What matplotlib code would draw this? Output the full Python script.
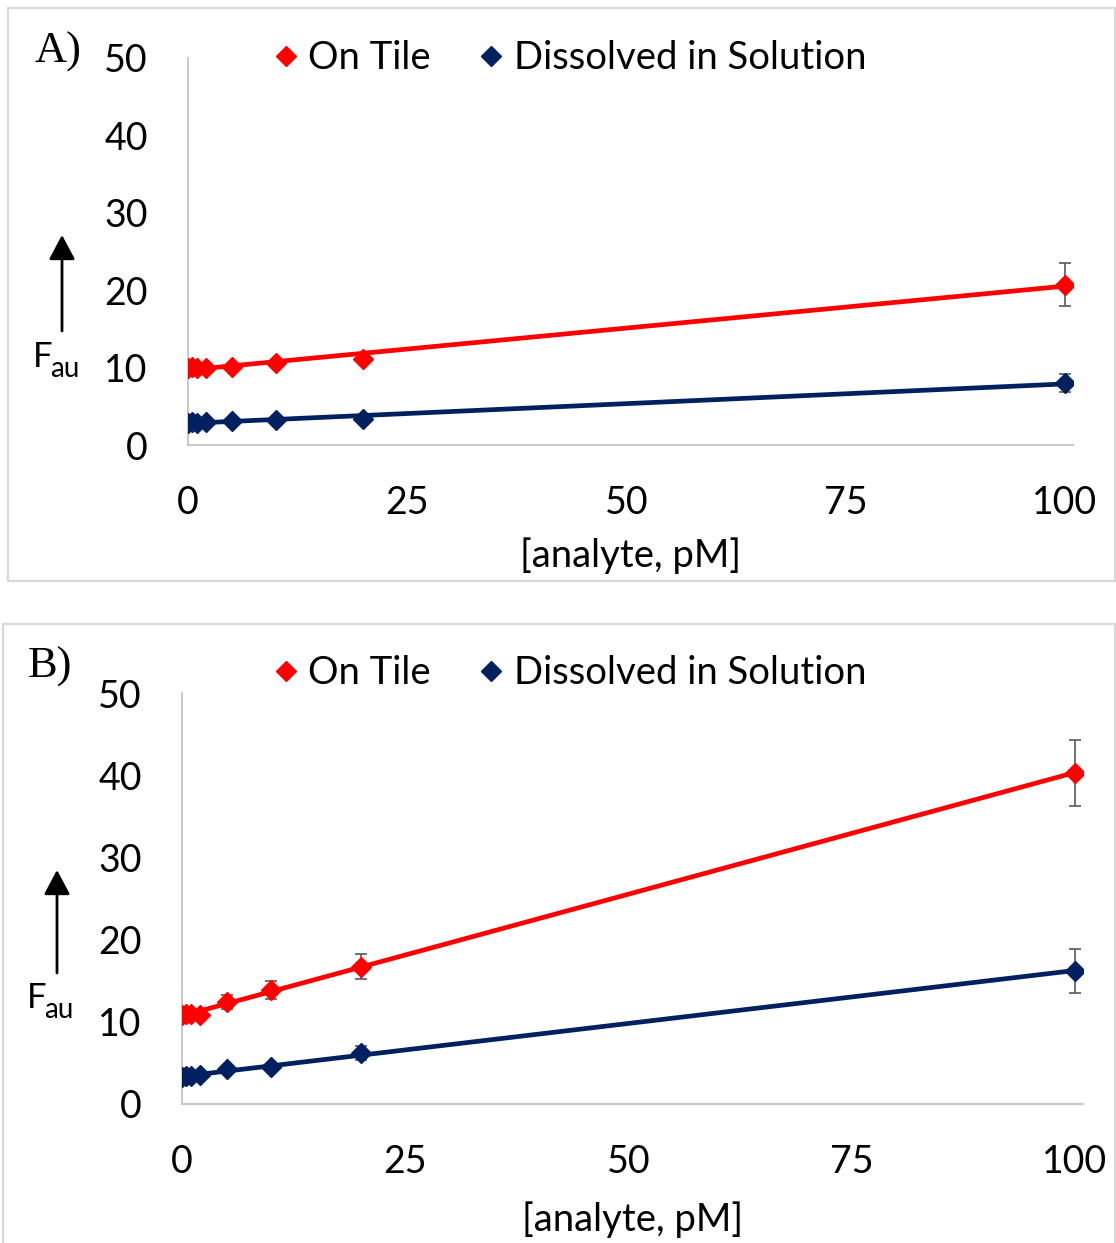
import numpy as np
import matplotlib
matplotlib.use("Agg")
import matplotlib.pyplot as plt
from matplotlib.lines import Line2D
from matplotlib.patches import Rectangle, FancyArrowPatch

# Analyte concentrations (pM)
conc = [0, 0.5, 1, 2, 5, 10, 20, 100]

# Panel A: fluorescence (a.u.)
a_tile = [10.0, 10.1, 10.0, 9.9, 10.1, 10.6, 11.1, 20.7]
a_tile_err = [0, 0, 0, 0, 0, 0, 0, 2.8]
a_sol = [2.9, 3.0, 2.9, 3.0, 3.1, 3.2, 3.3, 8.0]
a_sol_err = [0, 0, 0, 0, 0, 0, 0, 1.2]

# Panel B: fluorescence (a.u.)
b_tile = [10.8, 10.9, 11.0, 10.8, 12.4, 13.9, 16.7, 40.3]
b_tile_err = [0, 0, 0, 0, 0.9, 1.1, 1.5, 4.0]
b_sol = [3.3, 3.4, 3.4, 3.5, 4.2, 4.5, 6.2, 16.2]
b_sol_err = [0, 0, 0, 0, 0, 0, 0.9, 2.7]

series_labels = ["On Tile", "Dissolved in Solution"]
x_ticks = [0, 25, 50, 75, 100]
y_ticks = [0, 10, 20, 30, 40, 50]
x_title = "[analyte, pM]"

RED = "#FF0000"
NAVY = "#002060"
ERR = "#595959"
AXIS = "#C4C4C4"
FRAME = "#D9D9D9"
SANS = "Lato"
SERIF = "Liberation Serif"

W, H = 1116, 1243
fig = plt.figure(figsize=(W / 100, H / 100), dpi=100)


def fx(px):
    return px / W


def fy(py):
    return 1 - py / H


def panel(x0, x100, y0, y50, frame, tag, tag_xy, fau_xy, arrow, legend_y,
          xlabel_y, tile, tile_err, sol, sol_err):
    unit = (x100 - x0) / 100.0
    xmax = 100.9
    ax = fig.add_axes([fx(x0), fy(y0), (xmax * unit) / W, (y0 - y50) / H])
    ax.set_xlim(0, xmax)
    ax.set_ylim(0, 50)
    for name in ("top", "right"):
        ax.spines[name].set_visible(False)
    for name in ("left", "bottom"):
        ax.spines[name].set_color(AXIS)
        ax.spines[name].set_linewidth(1.3)
    ax.set_xticks(x_ticks)
    ax.set_yticks(y_ticks)
    ax.tick_params(axis="both", length=0, labelsize=27)
    ax.tick_params(axis="y", pad=29)
    ax.tick_params(axis="x", pad=29)
    for lab in ax.get_xticklabels() + ax.get_yticklabels():
        lab.set_fontfamily(SANS)

    xs = np.array(conc, dtype=float)
    for vals, errs, color in ((tile, tile_err, RED), (sol, sol_err, NAVY)):
        # linear trend line over the full concentration range
        k, b = np.polyfit(xs, np.array(vals), 1)
        xl = np.array([0, 100])
        ax.plot(xl, k * xl + b, color=color, lw=3.4, zorder=2,
                solid_capstyle="butt")
        ax.errorbar(xs, vals, yerr=errs, fmt="none", ecolor=ERR,
                    elinewidth=1.2, capsize=4, capthick=1.2, zorder=3)
        ax.plot(xs, vals, linestyle="none", marker="D", ms=9.8,
                color=color, mec=color, zorder=4)

    handles = [
        Line2D([], [], linestyle="none", marker="D", ms=10.5, color=RED),
        Line2D([], [], linestyle="none", marker="D", ms=10.5, color=NAVY),
    ]
    ax.legend(handles, series_labels, loc="center left",
              bbox_to_anchor=(fx(255), fy(legend_y)),
              bbox_transform=fig.transFigure, ncol=2, frameon=False,
              borderpad=0, handlelength=0.6, handletextpad=0.3,
              columnspacing=1.27, prop={"family": SANS, "size": 27.5})

    fig.text(fx((x0 + x0 + xmax * unit) / 2), fy(xlabel_y), x_title,
             ha="center", va="center", fontsize=27.5, fontfamily=SANS)

    fig.text(fx(tag_xy[0]), fy(tag_xy[1]), tag, ha="left", va="baseline",
             fontsize=32, fontfamily=SERIF)

    fig.text(fx(fau_xy[0]), fy(fau_xy[1]), "F", ha="left", va="baseline",
             fontsize=25, fontfamily=SANS)
    fig.text(fx(fau_xy[0] + 17), fy(fau_xy[1] + 10), "au", ha="left",
             va="baseline", fontsize=20, fontfamily=SANS)

    fig.add_artist(FancyArrowPatch(
        (fx(arrow[0]), fy(arrow[1])), (fx(arrow[0]), fy(arrow[2])),
        transform=fig.transFigure, arrowstyle="-|>,head_length=0.75,head_width=0.4",
        mutation_scale=20, lw=2.0, color="black", shrinkA=0, shrinkB=0))

    fig.add_artist(Rectangle((fx(frame[0]), fy(frame[3])),
                             (frame[2] - frame[0]) / W,
                             (frame[3] - frame[1]) / H,
                             transform=fig.transFigure, fill=False,
                             edgecolor=FRAME, lw=1.6))
    return ax


panel(188, 1065, 445, 58, (8, 8, 1115, 581), "A)", (35, 63), (33, 367),
      (62, 331, 235), 58, 556, a_tile, a_tile_err, a_sol, a_sol_err)
panel(182, 1075, 1104, 693, (3, 624, 1115, 1260), "B)", (28, 678), (27, 1008),
      (57, 973, 870), 673, 1220, b_tile, b_tile_err, b_sol, b_sol_err)

fig.savefig("out.png", dpi=100, facecolor="white")
